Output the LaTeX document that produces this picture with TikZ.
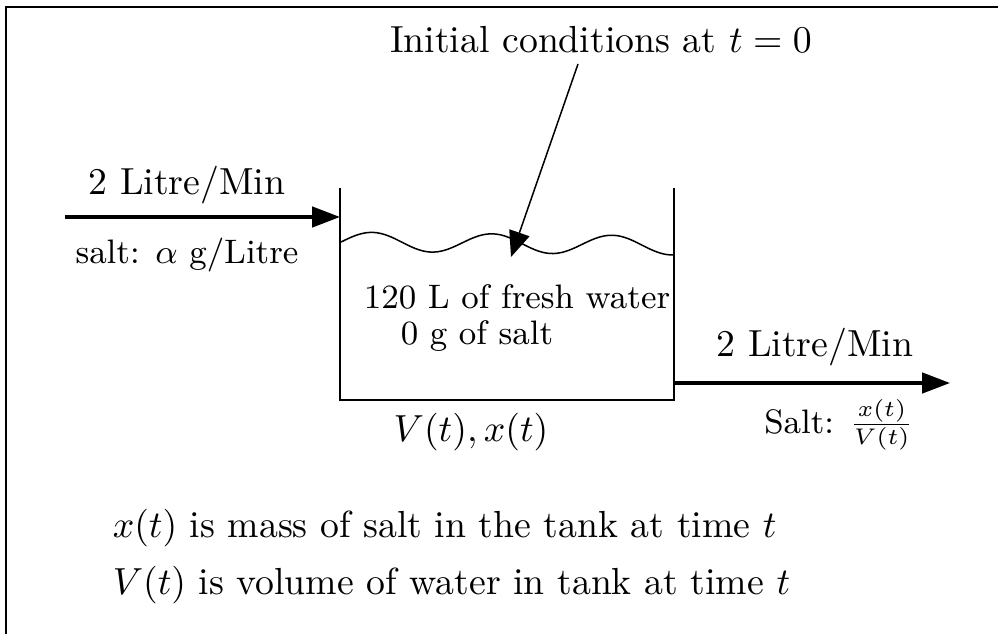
\documentclass[tikz,border=0pt]{standalone}
\usepackage{amsmath}
\usetikzlibrary{arrows.meta,positioning}
\tikzset{
  wall/.style={line width=0.4pt,draw=black},
  flowarrow/.style={-{Triangle[length=7.4pt,width=5.4pt]},line width=0.9pt},
  pointer/.style={-{Triangle[length=6.8pt,width=5.6pt]},line width=0.4pt},
  lbl/.style={inner sep=0pt,font=\normalsize},
  smalllbl/.style={inner sep=0pt,font=\small}
}

\begin{document}
\begin{tikzpicture}[x=0.265pt,y=-0.265pt]
\useasboundingbox (0,0) rectangle (998,634);
% frame
\draw[wall] (6,634) -- (6,7) -- (998,7);
% tank walls
\coordinate (tl) at (340,188);
\coordinate (bl) at (340,400);
\coordinate (br) at (674,400);
\coordinate (tr) at (674,188);
\draw[wall] (tl) -- (bl) -- (br) -- (tr);
% water surface
\draw[wall] plot[domain=340:674,samples=90,smooth] (\x,{241.5+0.012*(\x-340)-9.5*sin(3*(\x-342))});
% inflow
\coordinate (inflow) at (65,217);
\coordinate (inlet) at (340,217);
\draw[flowarrow] (inflow) -- (inlet);
\node[lbl] (inrate) at (187,185) {2 Litre/Min};
\node[smalllbl] (inconc) at (187,255) {salt: $\alpha$ g/Litre};
% outflow
\coordinate (outlet) at (674,383);
\coordinate (outflow) at (950,383);
\draw[flowarrow] (outlet) -- (outflow);
\node[lbl] (outrate) at (815,347) {2 Litre/Min};
\node[smalllbl] (outconc) at (839,425) {Salt: $\frac{x(t)}{V(t)}$};
% contents
\node[smalllbl] (water) at (517,297) {120 L of fresh water};
\node[smalllbl,anchor=west] (salt) at (400,336) {0 g of salt};
\node[lbl] (tank) at (471,432) {$V(t), x(t)$};
% initial conditions
\node[lbl] (init) at (601,40) {Initial conditions at $t=0$};
\coordinate (ptrstart) at (578,64);
\coordinate (surface) at (511,257);
\draw[pointer] (ptrstart) -- (surface);
% notes
\node[lbl,anchor=west] (note1) at (112,528) {$x(t)$ is mass of salt in the tank at time $t$};
\node[lbl,anchor=west] (note2) at (112,585) {$V(t)$ is volume of water in tank at time $t$};
\end{tikzpicture}
\end{document}
